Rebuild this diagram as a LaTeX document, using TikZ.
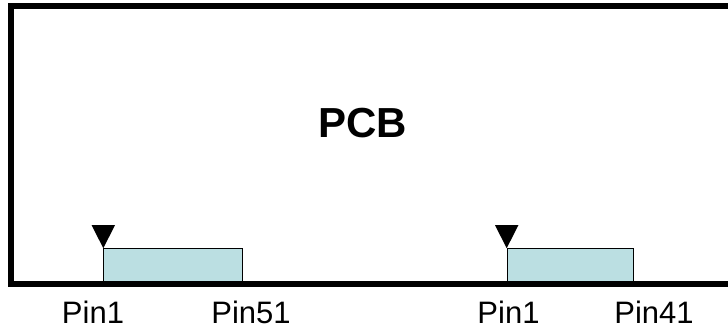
\documentclass[tikz,border=0pt]{standalone}
\usepackage{fontspec}
\setmainfont{Liberation Sans}
\definecolor{chipfill}{RGB}{187,223,226}
\tikzset{
  chip/.style={draw=black, fill=chipfill, line width=0.8pt, inner sep=0pt, anchor=south west},
  pinlabel/.style={anchor=base, inner sep=0pt, font=\fontsize{31}{37}\selectfont},
  frame/.style={line width=6pt, line join=miter},
  marker/.style={fill=black}
}
\begin{document}
\begin{tikzpicture}[x=1pt,y=1pt]
\useasboundingbox (0,-333) rectangle (728,0);
\clip (0,-333) rectangle (728,0);
\fill[white] (0,-333) rectangle (728,0);
% chips
\node[chip, minimum width=138.4pt, minimum height=35pt] (c1) at (103.3,-284) {};
\node[chip, minimum width=126.6pt, minimum height=35pt] (c2) at (506.7,-284) {};
% pin-1 markers
\fill[marker] (c1.north west) -- ++(-11.7,23) -- ++(23.4,0) -- cycle;
\fill[marker] (c2.north west) -- ++(-11.7,23) -- ++(23.4,0) -- cycle;
% PCB frame (open to the right)
\coordinate (tr) at (740,-6.3);
\coordinate (tl) at (11.3,-6.3);
\coordinate (bl) at (11.3,-283.7);
\coordinate (br) at (740,-283.7);
\draw[frame] (tr) -- (tl) -- (bl) -- (br);
% title
\node[inner sep=0pt, font=\fontsize{42}{50}\selectfont\bfseries] (pcb) at (362.5,-123.3) {PCB};
% labels
\node[pinlabel] (l1) at (93,-323) {Pin1};
\node[pinlabel] (l2) at (251,-323) {Pin51};
\node[pinlabel] (l3) at (508.5,-323) {Pin1};
\node[pinlabel] (l4) at (654,-323) {Pin41};
\end{tikzpicture}
\end{document}
